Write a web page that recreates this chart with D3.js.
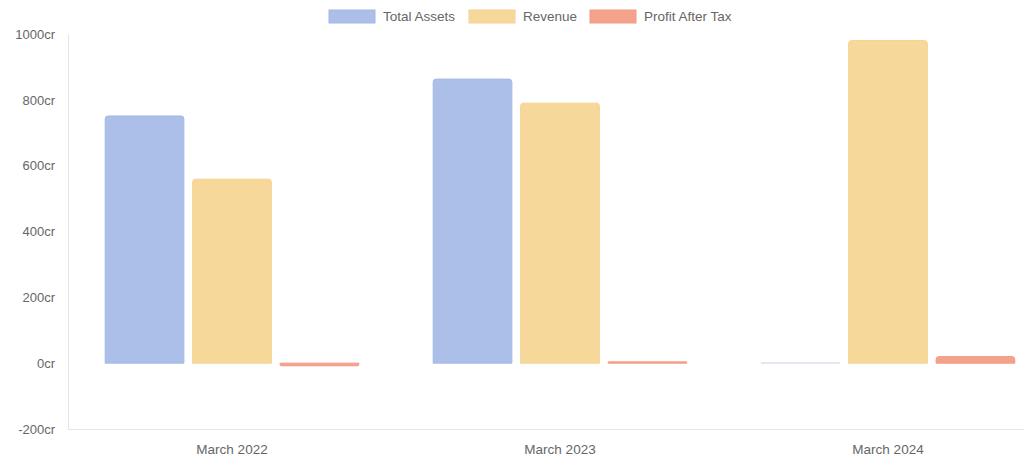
<!DOCTYPE html>
<html>
<head>
<meta charset="utf-8">
<script src="https://cdn.jsdelivr.net/npm/d3@7"></script>
<style>
  html, body { margin: 0; padding: 0; background: #fff; overflow: hidden; }
  svg { display: block; font-family: "Liberation Sans", Arial, sans-serif; }
</style>
</head>
<body>
<div id="chart"></div>
<script>
// chart values
var categories = ["March 2022", "March 2023", "March 2024"];
var seriesNames = ["Total Assets", "Revenue", "Profit After Tax"];
var totalAssets = [751, 863, 1];
var revenue = [559, 790, 980];
var profitAfterTax = [-8, 4, 20];
var yTicks = [-200, 0, 200, 400, 600, 800, 1000];

var colors = ["#abbfe8", "#f7d89b", "#f4a28c"];
var strokes = ["#a4b9e6", "#f5d291", "#f29c84"];

var width = 1024, height = 467;
// the plot runs past the right edge of the page, as in the original
var margin = {top: 34, right: -28, bottom: 38, left: 68};

var svg = d3.select("#chart").append("svg")
  .attr("width", width)
  .attr("height", height);

var x0 = d3.scaleBand()
  .domain(categories)
  .range([margin.left, width - margin.right]);

// 80% of each category for the group, 90% of each slot for the bar
var x1 = d3.scaleBand()
  .domain(seriesNames)
  .range([x0.bandwidth() * 0.1, x0.bandwidth() * 0.9]);

var y = d3.scaleLinear()
  .domain([-200, 1000])
  .range([height - margin.bottom, margin.top]);

// axes
var yAxis = svg.append("g")
  .attr("transform", "translate(" + margin.left + ",0)")
  .call(d3.axisLeft(y).tickValues(yTicks).tickSize(0).tickPadding(13)
    .tickFormat(function(d) { return d + "cr"; }));
yAxis.select(".domain").attr("stroke", "#e5e5e5");
yAxis.selectAll("text").attr("fill", "#666").attr("font-size", "13px");

var xAxis = svg.append("g")
  .attr("transform", "translate(0," + y(-200) + ")")
  .call(d3.axisBottom(x0).tickSize(0).tickPadding(15));
xAxis.select(".domain").attr("stroke", "#e5e5e5");
xAxis.selectAll("text").attr("fill", "#666").attr("font-size", "13.5px");

// bars
var series = [totalAssets, revenue, profitAfterTax];
var barW = x1.bandwidth() * 0.9;

function barPath(x, v, w) {
  var y0 = y(0), y1 = y(v);
  var top = Math.min(y0, y1), h = Math.abs(y1 - y0);
  var r = Math.min(3, h / 2, w / 2);
  if (v >= 0) {
    return "M" + x + "," + y0 + "V" + (top + r) + "Q" + x + "," + top + " " + (x + r) + "," + top +
      "H" + (x + w - r) + "Q" + (x + w) + "," + top + " " + (x + w) + "," + (top + r) + "V" + y0 + "Z";
  }
  var bot = top + h;
  return "M" + x + "," + y0 + "V" + (bot - r) + "Q" + x + "," + bot + " " + (x + r) + "," + bot +
    "H" + (x + w - r) + "Q" + (x + w) + "," + bot + " " + (x + w) + "," + (bot - r) + "V" + y0 + "Z";
}

series.forEach(function(vals, si) {
  svg.append("g").selectAll("path")
    .data(vals)
    .enter().append("path")
    .attr("d", function(d, i) {
      var bx = x0(categories[i]) + x1(seriesNames[si]) + (x1.bandwidth() - barW) / 2;
      return barPath(bx, d, barW);
    })
    .attr("fill", colors[si])
    .attr("fill-opacity", function(d) { return Math.abs(y(d) - y(0)) < 1 ? 0.3 : 1; })
    .attr("stroke", strokes[si])
    .attr("stroke-opacity", function(d) { return Math.abs(y(d) - y(0)) < 1 ? 0.3 : 1; })
    .attr("stroke-width", 1);
});

// legend
var legend = svg.append("g").attr("font-size", "13.5px");
var legendX = [329, 469, 590];
seriesNames.forEach(function(name, i) {
  var g = legend.append("g").attr("transform", "translate(" + legendX[i] + ",10)");
  g.append("rect").attr("width", 46).attr("height", 13)
    .attr("fill", colors[i]).attr("stroke", strokes[i]).attr("stroke-width", 1);
  g.append("text").attr("x", 54).attr("y", 11).attr("fill", "#666").text(name);
});
</script>
</body>
</html>
